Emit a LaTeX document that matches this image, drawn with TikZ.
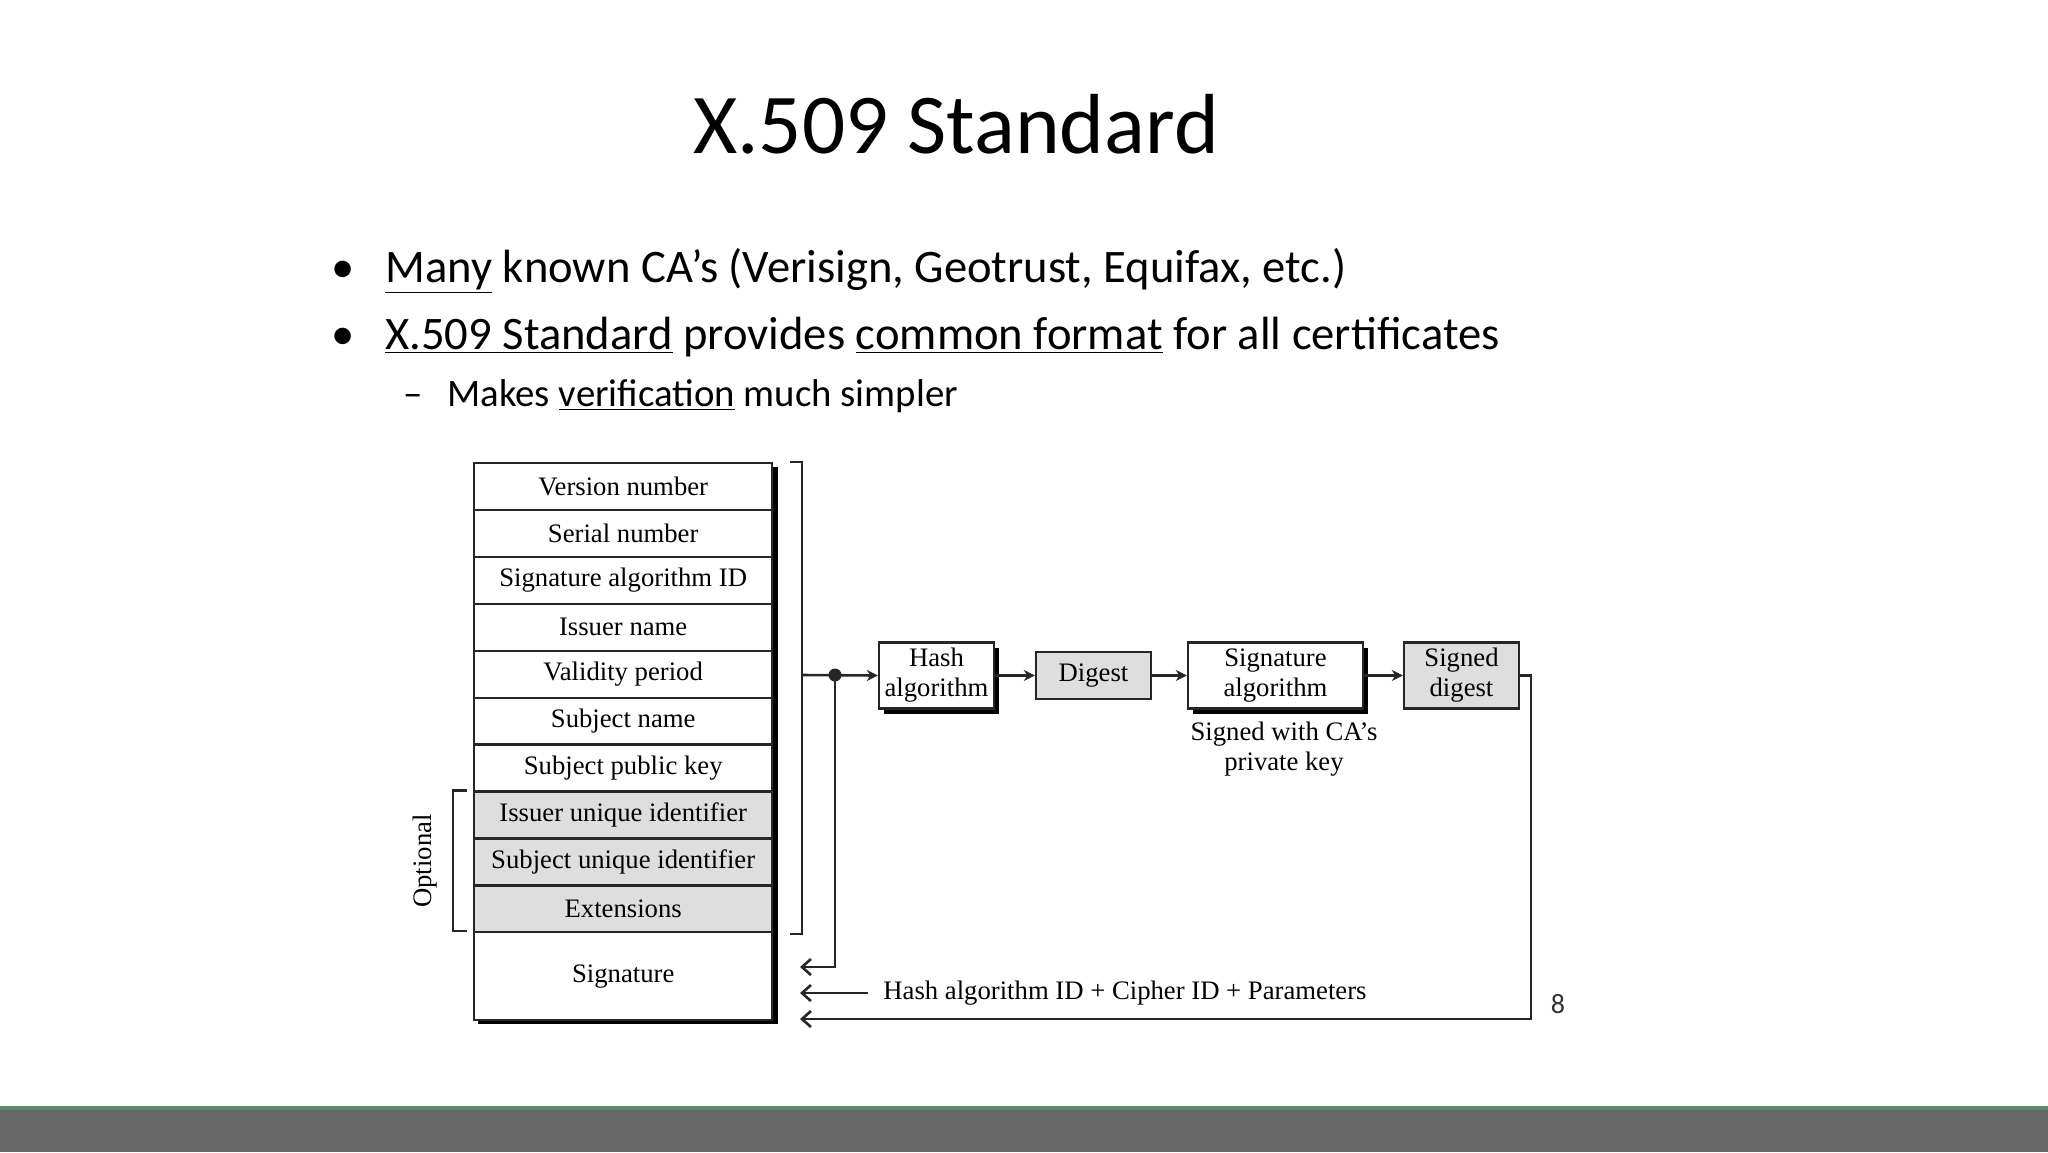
\documentclass[tikz,border=0pt]{standalone}
\usepackage{fontspec}
\setmainfont{Liberation Serif}
\newfontfamily\slidefont{Carlito}
\usetikzlibrary{arrows.meta,shadows}
\definecolor{barGray}{HTML}{666666}
\definecolor{barGreen}{HTML}{5E8C72}
\definecolor{cellGray}{HTML}{DEDEDE}
\definecolor{lineC}{HTML}{262626}
\newcommand{\diagfont}{\fontsize{13.35}{15}\selectfont}
\begin{document}
\begin{tikzpicture}[x=0.5pt,y=-0.5pt,
  row/.style={draw=lineC, line width=1.2pt, fill=white, minimum width=149pt, minimum height=23.45pt, inner sep=0pt, anchor=north west, font=\diagfont},
  optrow/.style={row, fill=cellGray},
  procbox/.style={draw=lineC, line width=1.2pt, fill=white, minimum width=57.5pt, minimum height=33pt, inner sep=0pt, align=center, font=\diagfont, drop shadow={opacity=1, fill=black, shadow xshift=2.5pt, shadow yshift=-2.5pt}},
  databox/.style={draw=lineC, line width=1.2pt, fill=cellGray, minimum width=57.5pt, minimum height=33pt, inner sep=0pt, align=center, font=\diagfont},
  flow/.style={draw=lineC, line width=1.3pt, -{Stealth[length=5.5pt,width=5.5pt]}},
  back/.style={draw=lineC, line width=1.3pt, -{Straight Barb[length=4.5pt,width=8pt]}},
  plain/.style={draw=lineC, line width=1.2pt},
  lbl/.style={font=\diagfont, inner sep=0pt, align=center},
  bullettext/.style={font=\slidefont\fontsize{23.3}{27}\selectfont, anchor=base west, inner sep=0pt},
  subtext/.style={font=\slidefont\fontsize{19.4}{23}\selectfont, anchor=base west, inner sep=0pt}
]
\useasboundingbox (0,0) rectangle (2048,1152);
\fill[white] (0,0) rectangle (2048,1152);

% bottom bar
\fill[barGray] (0,1110) rectangle (2048,1152);
\fill[barGreen] (0,1106) rectangle (2048,1110);

% title
\node[font=\slidefont\fontsize{42.6}{50}\selectfont, anchor=base, inner sep=0pt] (title) at (956,153) {X.509 Standard};

% bullets
\node[font=\slidefont\fontsize{23.3}{27}\selectfont, anchor=base, inner sep=0pt] (b1dot) at (343,282) {•};
\node[bullettext] (b1) at (385,282) {\underline{Many} known CA’s (Verisign, Geotrust, Equifax, etc.)};
\node[font=\slidefont\fontsize{23.3}{27}\selectfont, anchor=base, inner sep=0pt] (b2dot) at (343,349) {•};
\node[bullettext] (b2) at (385,349) {\underline{X.509 Standard} provides \underline{common format} for all certificates};
\node[font=\slidefont\fontsize{19.4}{23}\selectfont, anchor=base, inner sep=0pt] (b3dash) at (413,406) {–};
\node[subtext] (b3) at (447,406) {Makes \underline{verification} much simpler};

% table shadow
\fill[black] (478,467) rectangle (777.5,1024);
% table rows
\node[row] (r1) at (473,462.0) {Version number};
\node[row] (r2) at (473,508.9) {Serial number};
\node[row] (r3) at (473,555.8) {Signature algorithm ID};
\node[row] (r4) at (473,602.7) {Issuer name};
\node[row] (r5) at (473,649.6) {Validity period};
\node[row] (r6) at (473,696.5) {Subject name};
\node[row] (r7) at (473,743.4) {Subject public key};
\node[optrow] (r8) at (473,790.3) {Issuer unique identifier};
\node[optrow] (r9) at (473,837.2) {Subject unique identifier};
\node[optrow] (r10) at (473,884.1) {Extensions};
\node[row, minimum height=44pt] (r11) at (473,931.0) {Signature};

% optional bracket
\coordinate (oA) at (467,790.3);
\coordinate (oB) at (453,790.3);
\coordinate (oC) at (453,931);
\coordinate (oD) at (467,931);
\draw[plain] (oA) -- (oB) -- (oC) -- (oD);
\node[lbl, rotate=90] (opt) at (425,861) {Optional};

% right bracket
\coordinate (kA) at (790,462);
\coordinate (kB) at (802,462);
\coordinate (kC) at (802,934);
\coordinate (kD) at (790,934);
\coordinate (kM) at (802,675);
\draw[plain] (kA) -- (kB) -- (kC) -- (kD);

% process boxes
\node[procbox] (hash) at (936.5,675.5) {Hash\\algorithm};
\node[databox, minimum height=23.5pt] (digest) at (1093.5,675.5) {Digest};
\node[procbox, minimum width=87.5pt] (sigalg) at (1275.5,675.5) {Signature\\algorithm};
\node[databox] (signed) at (1461.5,675.5) {Signed\\digest};
\node[lbl] (note) at (1284,749) {Signed with CA’s\\private key};

% dot and connectors
\coordinate (dot) at (835,675);
\fill[lineC] (dot) circle (6.5);
\draw[flow] (kM) -- (hash.west);
\draw[flow] (hash.east) -- (digest.west);
\draw[flow] (digest.east) -- (sigalg.west);
\draw[flow] (sigalg.east) -- (signed.west);

\coordinate (dA) at (835,967);
\coordinate (aEnd1) at (800,967);
\draw[back] (dot) -- (dA) -- (aEnd1);

\coordinate (mStart) at (868,993);
\coordinate (aEnd2) at (800,993);
\draw[back] (mStart) -- (aEnd2);
\node[font=\diagfont, anchor=west, inner sep=0pt] (params) at (883,993) {Hash algorithm ID + Cipher ID + Parameters};

\coordinate (sR) at (1531,675.5);
\coordinate (sB) at (1531,1019);
\coordinate (aEnd3) at (800,1019);
\draw[back] (signed.east) -- (sR) -- (sB) -- (aEnd3);

% page number
\node[font=\slidefont\fontsize{14}{16}\selectfont, text=black!80, inner sep=0pt] (pnum) at (1558,1004) {8};
\end{tikzpicture}
\end{document}
